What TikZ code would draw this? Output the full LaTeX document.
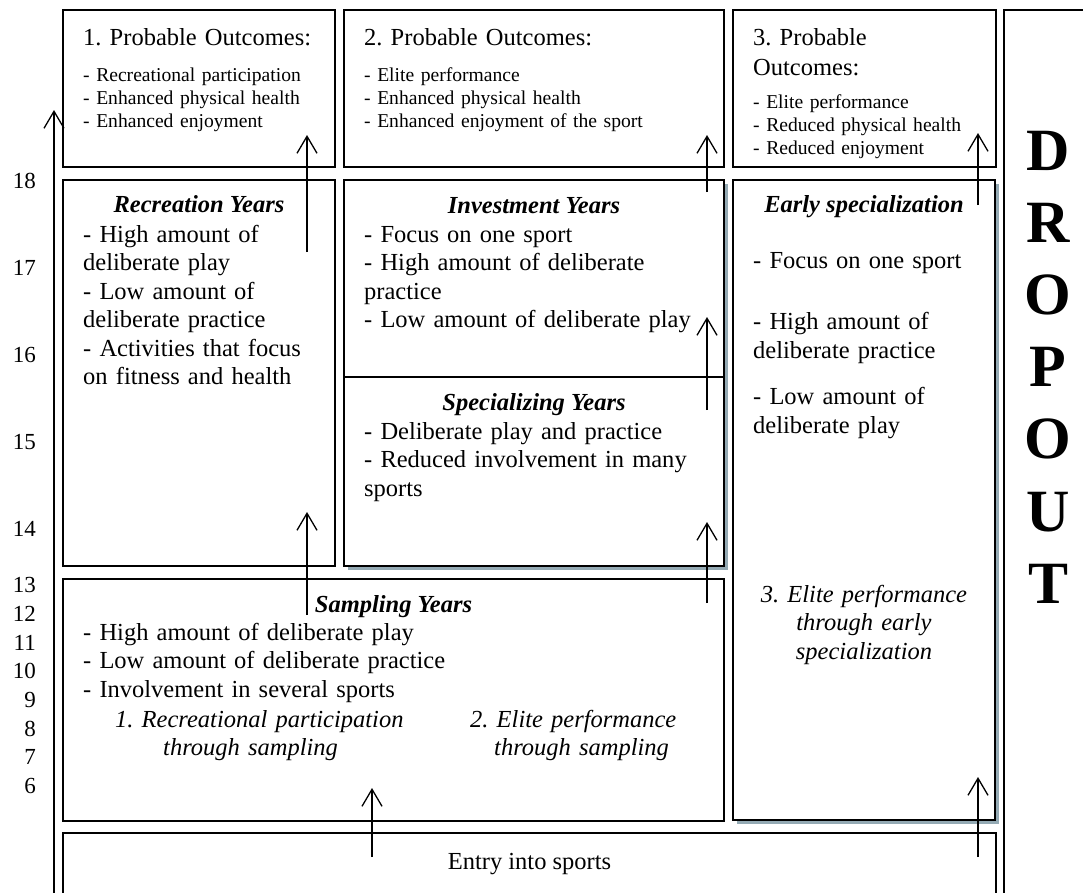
\documentclass[tikz,border=0pt]{standalone}
\usepackage{fontspec}
\setmainfont{Liberation Serif}
\usetikzlibrary{positioning,shadows,arrows.meta}

\definecolor{shadowblue}{RGB}{148,170,180}
\newcommand\mainsz{\fontsize{24.5}{28.5}\selectfont}
\newcommand\smallsz{\fontsize{19.6}{23}\selectfont}
\frenchspacing

\tikzset{
  box/.style={draw, line width=1.6pt, inner sep=0pt, outer sep=0pt, anchor=north west},
  shbox/.style={box, fill=white, general shadow={fill=shadowblue, shadow xshift=4pt, shadow yshift=-4pt}},
  lst/.style={font=\mainsz, inner sep=0pt, anchor=base west, text width=340pt, align=left},
  slst/.style={font=\smallsz, inner sep=0pt, anchor=base west, text width=300pt, align=left},
  ttl/.style={font=\mainsz\bfseries\itshape, inner sep=0pt, anchor=base},
  ctr/.style={font=\mainsz\itshape, inner sep=0pt, anchor=base, text width=240pt, align=center},
  age/.style={font=\fontsize{23}{23}\selectfont, inner sep=0pt, anchor=base east},
  arr/.style={line width=1.3pt, -{Straight Barb[length=17pt,width=20pt]}}
}

\begin{document}
\begin{tikzpicture}[x=1pt, y=-1pt]
    \clip (0,0) rectangle (1083,892);

    % outcome row
    \node[box, minimum width=272pt, minimum height=157pt] (out1) at (63,10) {};
    \node[box, minimum width=380pt, minimum height=157pt, right=9pt of out1] (out2) {};
    \node[box, minimum width=263pt, minimum height=157pt, right=9pt of out2] (out3) {};
    \node[box, minimum width=100pt, minimum height=900pt] (drop) at ([xshift=8pt]out3.north east) {};

    % stages
    \node[box, minimum width=272pt, minimum height=386pt, below=13pt of out1] (rec) {};
    \node[shbox, minimum width=380pt, minimum height=197pt, below=13pt of out2] (inv) {};
    \node[shbox, minimum width=380pt, minimum height=189pt, below=0pt of inv] (spec) {};
    \node[shbox, minimum width=262pt, minimum height=640pt] (early) at ([yshift=-13pt]out3.south west) {};
    \node[box, minimum width=661pt, minimum height=242pt] (samp) at ([yshift=-13pt]rec.south west) {};
    \node[box, minimum width=933pt, minimum height=80pt] (entry) at ([yshift=-12pt]samp.south west) {};

    % outcome texts
    \node[lst] (t1) at ([xshift=20pt, yshift=-35pt]out1.north west) {1. Probable Outcomes:};
    \node[slst] (l1) at ([xshift=20pt, yshift=-71pt]out1.north west)
        {- Recreational participation\\- Enhanced physical health\\- Enhanced enjoyment};
    \node[lst] (t2) at ([xshift=20pt, yshift=-35pt]out2.north west) {2. Probable Outcomes:};
    \node[slst] (l2) at ([xshift=20pt, yshift=-71pt]out2.north west)
        {- Elite performance\\- Enhanced physical health\\- Enhanced enjoyment of the sport};
    \node[lst, font=\fontsize{24.5}{30}\selectfont] (t3) at ([xshift=20pt, yshift=-35pt]out3.north west)
        {3. Probable\\Outcomes:};
    \node[slst] (l3) at ([xshift=20pt, yshift=-98pt]out3.north west)
        {- Elite performance\\- Reduced physical health\\- Reduced enjoyment};

    % stage texts
    \node[ttl] (rt) at ([yshift=-32pt]rec.north) {Recreation Years};
    \node[lst] (rl) at ([xshift=20pt, yshift=-62pt]rec.north west)
        {- High amount of\\deliberate play\\- Low amount of\\deliberate practice\\- Activities that focus\\on fitness and health};
    \node[ttl] (it) at ([yshift=-33pt]inv.north) {Investment Years};
    \node[lst] (il) at ([xshift=20pt, yshift=-62pt]inv.north west)
        {- Focus on one sport\\- High amount of deliberate\\practice\\- Low amount of deliberate play};
    \node[ttl] (st) at ([yshift=-33pt]spec.north) {Specializing Years};
    \node[lst] (sl) at ([xshift=20pt, yshift=-62pt]spec.north west)
        {- Deliberate play and practice\\- Reduced involvement in many\\sports};
    \node[ttl] (et) at ([yshift=-32pt]early.north) {Early specialization};
    \node[lst] (el) at ([xshift=20pt, yshift=-88pt]early.north west)
        {- Focus on one sport\\[33pt]- High amount of\\deliberate practice\\[18pt]- Low amount of\\deliberate play};
    \node[ctr] (e3) at ([yshift=-422pt]early.north)
        {3. Elite performance\\through early\\specialization};
    \node[ttl] (sat) at ([yshift=-33pt]samp.north) {Sampling Years};
    \node[lst, text width=500pt] (sal) at ([xshift=20pt, yshift=-61pt]samp.north west)
        {- High amount of deliberate play\\- Low amount of deliberate practice\\- Involvement in several sports};
    \node[lst, font=\mainsz\itshape] (s1) at ([xshift=52pt, yshift=-148pt]samp.north west)
        {1. Recreational participation\\\hspace*{48pt}through sampling};
    \node[lst, font=\mainsz\itshape] (s2) at ([xshift=407pt, yshift=-148pt]samp.north west)
        {2. Elite performance\\\hspace*{24pt}through sampling};
    \node[font=\mainsz, inner sep=0pt, anchor=base] (en) at ([yshift=-36pt]entry.north) {Entry into sports};
    \node[font=\fontsize{60}{72.2}\selectfont\bfseries, inner sep=0pt, anchor=base, text width=60pt, align=center]
        (dt) at ([xshift=44pt, yshift=-160pt]drop.north west) {D\\R\\O\\P\\O\\U\\T};

    % ages
    \foreach \a/\y in {18/188,17/275,16/362,15/449,14/536,13/592,12/621,11/650,10/678,9/707,8/736,7/764,6/793}
        \node[age] (age\a) at (36,\y) {\a};

    % arrow ends
    \coordinate (ent-l) at (372,857);   \coordinate (samp-in) at (372,788);
    \coordinate (ent-r) at (978,857);   \coordinate (early-in) at (978,777);
    \coordinate (samp-l) at (307,615);  \coordinate (rec-in) at (307,512);
    \coordinate (samp-r) at (707,603);  \coordinate (spec-in) at (707,522);
    \coordinate (spec-out) at (707,410); \coordinate (inv-in) at (707,317);
    \coordinate (inv-out) at (707,192); \coordinate (out2-in) at (707,135);
    \coordinate (rec-out) at (307,252); \coordinate (out1-in) at (307,135);
    \coordinate (early-out) at (978,205); \coordinate (out3-in) at (978,133);
    \coordinate (ax-bot) at (54,900);   \coordinate (ax-top) at (54,110);

    \draw[arr] (ent-l) -- (samp-in);
    \draw[arr] (ent-r) -- (early-in);
    \draw[arr] (samp-l) -- (rec-in);
    \draw[arr] (samp-r) -- (spec-in);
    \draw[arr] (spec-out) -- (inv-in);
    \draw[arr] (inv-out) -- (out2-in);
    \draw[arr] (rec-out) -- (out1-in);
    \draw[arr] (early-out) -- (out3-in);
    \draw[arr] (ax-bot) -- (ax-top);
\end{tikzpicture}
\end{document}
